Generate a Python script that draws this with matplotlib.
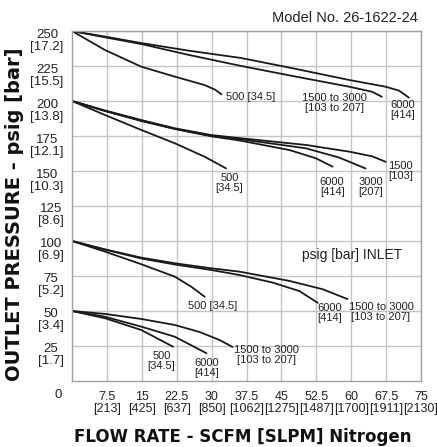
import matplotlib
matplotlib.use("Agg")
import matplotlib.pyplot as plt
import matplotlib.transforms as mtransforms

plt.rcParams['font.family'] = ['Liberation Sans', 'DejaVu Sans']

# ejes
x_ticks = [7.5, 15, 22.5, 30, 37.5, 45, 52.5, 60, 67.5, 75]
x_slpm = [213, 425, 637, 850, 1062, 1275, 1487, 1700, 1911, 2130]
y_ticks = [25, 50, 75, 100, 125, 150, 175, 200, 225, 250]
y_bar = ['1.7', '3.4', '5.2', '6.9', '8.6', '10.3', '12.1', '13.8', '15.5', '17.2']

# entrada 250 psig
x250_6000 = [0, 7.1, 14.9, 25, 36.4, 48, 59.6, 67.4, 70.3, 72.4]
y250_6000 = [250, 246, 241.4, 236, 230.7, 223, 215, 210.2, 207.4, 202.4]
x250_1500 = [0, 7.1, 14.9, 25, 36.4, 48, 59.6, 64.5, 66.6]
y250_1500 = [250, 245.5, 240.7, 233, 225, 217.5, 210.2, 206.6, 203]
x250_500 = [0, 7.1, 14.9, 22.1, 28.5, 30.8, 32.1]
y250_500 = [250, 236.4, 224.5, 217.4, 211.4, 208, 204.8]

# entrada 200 psig
x200_1500 = [0, 7.1, 14.9, 22.1, 29.9, 36.0, 50.3, 59.6, 64.5, 67.4]
y200_1500 = [200, 193.2, 186.4, 180.5, 175.7, 173.5, 168.6, 163.8, 160.5, 156.6]
x200_3000 = [0, 7.1, 14.9, 22.1, 29.9, 36.0, 50.3, 57.4, 63.1]
y200_3000 = [200, 193, 186, 180.2, 175.2, 172.8, 166.2, 159.6, 151.8]
x200_6000 = [0, 7.1, 14.9, 22.1, 29.9, 36.0, 46.7, 52.4, 56.0]
y200_6000 = [200, 192.8, 185.7, 180, 174.8, 171.8, 165, 159.1, 153.1]
x200_500 = [0, 7.1, 14.9, 22.1, 28.5, 33.1]
y200_500 = [200, 190, 179.3, 169.8, 160.2, 151.9]

# entrada 100 psig
x100_1500 = [0, 7.1, 14.9, 22.1, 29.9, 36.0, 46.7, 53.9, 59.2]
y100_1500 = [100, 94, 88.1, 84.1, 80.5, 78.1, 71.5, 65.5, 58.5]
x100_6000 = [0, 7.1, 14.9, 22.1, 29.9, 36.0, 43.1, 48.9, 52.8]
y100_6000 = [100, 93.8, 87.5, 83.2, 79.3, 75.7, 70.3, 64.2, 55.8]
x100_500 = [0, 7.1, 14.9, 22.1, 25.6, 28.5]
y100_500 = [100, 92.4, 83.4, 74.5, 67.4, 60.2]

# entrada 50 psig
x50_1500 = [0, 7.1, 14.9, 22.1, 27.4, 31.7, 34.5]
y50_1500 = [50, 47.9, 44.3, 40, 35, 29.3, 24.3]
x50_6000 = [0, 7.1, 14.9, 22.1, 28.9]
y50_6000 = [50, 45.9, 38.8, 31.6, 19.8]
x50_500 = [0, 7.1, 14.9, 21.7]
y50_500 = [50, 44.8, 36.4, 24.5]

curvas = [
    (x250_6000, y250_6000), (x250_1500, y250_1500), (x250_500, y250_500),
    (x200_1500, y200_1500), (x200_3000, y200_3000), (x200_6000, y200_6000), (x200_500, y200_500),
    (x100_1500, y100_1500), (x100_6000, y100_6000), (x100_500, y100_500),
    (x50_1500, y50_1500), (x50_6000, y50_6000), (x50_500, y50_500),
]

# etiquetas de las curvas: (x, y, texto, alineacion)
etiquetas = [
    (33.0, 203.0, '500 [34.5]', 'left'),
    (56.4, 198.6, '1500 to 3000\n[103 to 207]', 'center'),
    (71.1, 193.6, '6000\n[414]', 'center'),
    (33.8, 141.4, '500\n[34.5]', 'center'),
    (55.9, 138.6, '6000\n[414]', 'center'),
    (64.2, 138.6, '3000\n[207]', 'center'),
    (70.6, 150.0, '1500\n[103]', 'center'),
    (30.3, 53.6, '500 [34.5]', 'center'),
    (55.3, 48.9, '6000\n[414]', 'center'),
    (66.4, 49.3, '1500 to 3000\n[103 to 207]', 'center'),
    (19.2, 14.3, '500\n[34.5]', 'center'),
    (28.9, 9.3, '6000\n[414]', 'center'),
    (41.7, 18.6, '1500 to 3000\n[103 to 207]', 'center'),
]

fig = plt.figure(figsize=(4.37, 4.47), dpi=100)
ax = fig.add_axes([0.1648, 0.1477, 0.7986, 0.7829])

for xs, ys in curvas:
    ax.plot(xs, ys, color='#1a1a1a', lw=1.3, solid_capstyle='round', solid_joinstyle='round')

for x, y, t, ha in etiquetas:
    ax.text(x, y, t, fontsize=8, ha=ha, va='center', ma='center', color='#222222',
            linespacing=1.0)

ax.text(60.2, 90, 'psig [bar] INLET', fontsize=10, ha='center', va='center', color='#222222')

ax.set_xlim(0, 75)
ax.set_ylim(0, 250)
ax.set_xticks(x_ticks)
ax.set_xticklabels([f'{a:g}\n[{b}]' for a, b in zip(x_ticks, x_slpm)], fontsize=9,
                   linespacing=1.0)
ax.set_yticks(y_ticks)
ax.set_yticklabels([f'{a}\n[{b}]' for a, b in zip(y_ticks, y_bar)], fontsize=9.5,
                   linespacing=1.0)
ax.tick_params(length=0, colors='#222222')
ax.tick_params(axis='x', pad=7)
ax.tick_params(axis='y', pad=6)
for lab in ax.get_yticklabels():
    lab.set_multialignment('center')
    lab.set_transform(lab.get_transform() + mtransforms.ScaledTranslation(0, -8 / 100, fig.dpi_scale_trans))
for lab in ax.get_xticklabels():
    lab.set_multialignment('center')

ax.grid(True, color='#c4c4c4', lw=1.0)
ax.set_axisbelow(True)
for s in ax.spines.values():
    s.set_color('#a0a0a0')
    s.set_linewidth(1.0)

ax.text(-0.04, -0.04, '0', transform=ax.transAxes, fontsize=9.5, ha='center', va='center',
        color='#222222')
ax.text(0.991, 1.037, 'Model No. 26-1622-24', transform=ax.transAxes, fontsize=10.5,
        ha='right', va='center', color='#222222')

fig.text(0.555, 0.022, 'FLOW RATE - SCFM [SLPM] Nitrogen', fontsize=12, fontweight='bold',
         family='DejaVu Sans', ha='center', va='center', color='#111111')
fig.text(0.034, 0.52, 'OUTLET PRESSURE - psig [bar]', fontsize=14, fontweight='bold',
         family='DejaVu Sans', rotation=90, ha='center', va='center', color='#111111')

plt.savefig('out.png', dpi=100)
